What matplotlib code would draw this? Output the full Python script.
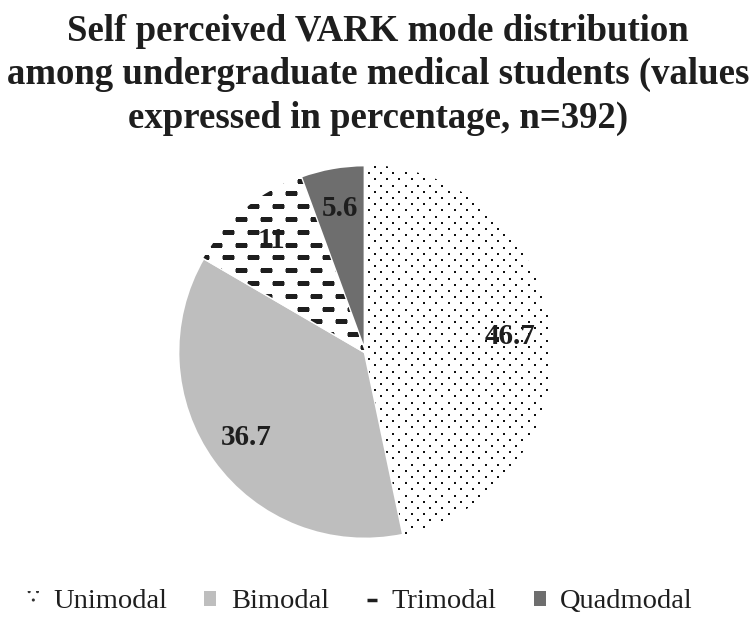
import numpy as np
import matplotlib.pyplot as plt
from matplotlib.patches import Patch
from matplotlib.lines import Line2D

plt.rcParams['font.family'] = ['Liberation Serif', 'DejaVu Serif']

modes = ['Unimodal', 'Bimodal', 'Trimodal', 'Quadmodal']
values = [46.7, 36.7, 11, 5.6]
value_labels = ['46.7', '36.7', '11', '5.6']
colors = ['white', '#bebebe', 'white', '#6e6e6e']
ink = '#1e1e1e'

W, H = 756, 619
fig = plt.figure(figsize=(W / 100, H / 100), dpi=100)
ax = fig.add_axes([0, 0, 1, 1])

cx, cy, r = 365, H - 352, 187
wedges, texts = ax.pie(values, colors=colors, startangle=90, counterclock=False,
                       center=(cx, cy), radius=r, labels=value_labels,
                       labeldistance=0.78, frame=True,
                       wedgeprops=dict(edgecolor='white', linewidth=2),
                       textprops=dict(fontsize=21, fontweight='bold', color=ink))
for t in texts:
    t.set_ha('center')
    t.set_va('center')
    t.set_zorder(5)
ax.set_xlim(0, W)
ax.set_ylim(0, H)
ax.set_aspect('equal')
ax.axis('off')

# dotted fill for unimodal
xs, ys = [], []
for i, y in enumerate(np.arange(cy - r, cy + r, 6.2)):
    off = 0 if i % 2 == 0 else 6.15
    for x in np.arange(cx - r + off, cx + r, 12.3):
        xs.append(x)
        ys.append(y)
dots = ax.scatter(xs, ys, marker='s', s=4, color='#111111', linewidths=0, zorder=3)
dots.set_clip_path(wedges[0])

# dashed fill for trimodal
xs, ys = [], []
for i, y in enumerate(np.arange(cy - r, cy + r, 12.8)):
    off = 0 if i % 2 == 0 else 12.5
    for x in np.arange(cx - r + off, cx + r, 25):
        xs.append(x)
        ys.append(y)
dashes = ax.scatter(xs, ys, marker='_', s=64, color=ink, linewidths=2.2, zorder=3)
dashes.set_clip_path(wedges[2])

fig.text(0.5, 1 - 75 / H, 'Self perceived VARK mode distribution\namong undergraduate medical students (values\nexpressed in percentage, n=392)',
         ha='center', va='center', fontsize=26.5, fontweight='bold', color=ink,
         linespacing=1.32)

handles = [Patch(facecolor='white', edgecolor='#333333', hatch='..', lw=0),
           Patch(facecolor='#bebebe', edgecolor='none'),
           Line2D([], [], marker='_', color=ink, ms=7, mew=2.5, linestyle='none'),
           Patch(facecolor='#6e6e6e', edgecolor='none')]
fig.legend(handles, modes, loc='center', bbox_to_anchor=(360 / W, 1 - 602 / H), ncol=4,
           frameon=False, fontsize=20.5, handlelength=0.42, handleheight=0.42,
           handletextpad=0.5, columnspacing=1.3, labelcolor=ink,
           borderaxespad=0, borderpad=0)

fig.savefig('out.png', dpi=100)
